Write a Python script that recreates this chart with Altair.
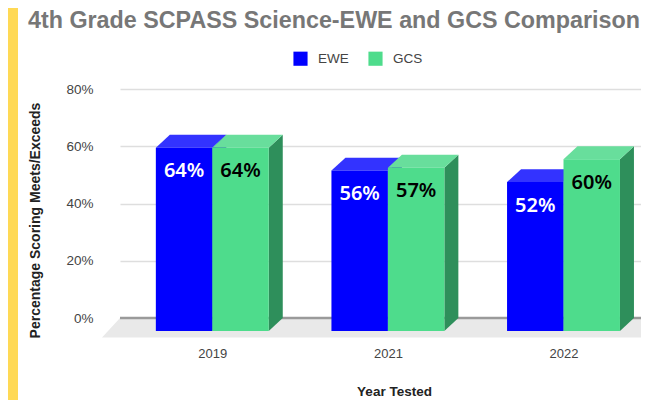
import altair as alt
import pandas as pd

years = ["2019", "2021", "2022"]
ewe = [64, 56, 52]
gcs = [64, 57, 60]
y_ticks = [0, 20, 40, 60, 80]

PX = 175.6
W = 0.3215     # bar width in group units
DX = 14 / PX   # depth in group units
DY = 4.5       # depth in value units
X_MIN, X_MAX = -0.5256, 2.4413
X_SCALE = alt.Scale(domain=[X_MIN, X_MAX], nice=False, zero=False)
Y_SCALE = alt.Scale(domain=[0, 80], nice=False, zero=False)
x_enc = alt.X("x:Q", scale=X_SCALE, title="Year Tested",
              axis=alt.Axis(values=[0, 1, 2], labelExpr="['2019','2021','2022'][datum.value]",
                            grid=False, domain=False, ticks=False, labelPadding=29,
                            labelFont="Liberation Sans", labelFontSize=13, labelColor="#444444",
                            titleFont="Liberation Sans", titleFontSize=13.5, titleFontWeight="bold",
                            titleColor="#222222", titleX=274, titleY=66))
y_enc = alt.Y("y:Q", scale=Y_SCALE, title="Percentage Scoring Meets/Exceeds",
              axis=alt.Axis(values=y_ticks, labelExpr="datum.value + '%'",
                            grid=True, gridColor="#dedede", gridWidth=1.5, domain=False, ticks=False,
                            labelPadding=27, labelFont="Liberation Sans", labelFontSize=13.5, labelColor="#444444",
                            titleFont="Liberation Sans", titleFontSize=14, titleFontWeight="bold",
                            titleColor="#222222", titleX=-78, titleY=131))
y2_enc = alt.Y2("y2:Q")

floor = pd.DataFrame({"x": [X_MIN - 18 / PX, X_MIN, X_MAX], "y": [-6.8, 0, 0], "y2": [-6.8, -6.8, -6.8]})
layers = [
    alt.Chart(floor).mark_area(color="#e9e9e9", orient="vertical", clip=False).encode(x=x_enc, y=y_enc, y2=y2_enc),
    alt.Chart(pd.DataFrame({"y": [0]})).mark_rule(color="#9a9a9a", strokeWidth=2.6).encode(y=y_enc),
]

front_rows, label_rows = [], []
for name, vals, off, side_c, top_c, txt in [("EWE", ewe, -W, "#0000cc", "#3333ff", "white"),
                                            ("GCS", gcs, 0.0, "#2e8f5b", "#68de9c", "black")]:
    side_rows, top_rows = [], []
    for i, v in enumerate(vals):
        x0, x1 = i + off, i + off + W
        side_rows += [dict(g=i, x=x1, y=v - DY, y2=-DY), dict(g=i, x=x1 + DX, y=v, y2=0)]
        top_rows += [dict(g=i, x=x0, y=v - DY, y2=v - DY), dict(g=i, x=x0 + DX, y=v, y2=v - DY),
                     dict(g=i, x=x1, y=v, y2=v - DY), dict(g=i, x=x1 + DX, y=v, y2=v)]
        front_rows.append(dict(x=x0, x2=x1, y=v - DY, y2=-DY, series=name))
        label_rows.append(dict(x=(x0 + x1) / 2, y=v - DY, t=f"{v}%", c=txt))
    for rows, col in [(side_rows, side_c), (top_rows, top_c)]:
        layers.append(alt.Chart(pd.DataFrame(rows)).mark_area(color=col, orient="vertical", clip=False).encode(
            x=x_enc, y=y_enc, y2=y2_enc, detail="g:N"))

layers.append(alt.Chart(pd.DataFrame(front_rows)).mark_rect(clip=False).encode(
    x=x_enc, x2="x2:Q", y=y_enc, y2=y2_enc,
    color=alt.Color("series:N", scale=alt.Scale(domain=["EWE", "GCS"], range=["#0000ff", "#4edc8c"]),
                    legend=alt.Legend(orient="none", legendX=173, legendY=-38, direction="horizontal", title=None,
                                      symbolType="square", symbolSize=200, symbolStrokeWidth=0, padding=0,
                                      labelFont="Liberation Sans", labelFontSize=13.5, labelColor="#444444",
                                      labelOffset=10, columnPadding=19))))
layers.append(alt.Chart(pd.DataFrame(label_rows)).mark_text(
    font="Noto Sans", fontSize=20, fontWeight=600, dy=23.5, baseline="middle", align="center").encode(
    x=x_enc, y=y_enc, text="t:N", color=alt.Color("c:N", scale=None)))
layers.append(alt.Chart(pd.DataFrame({"a": [1]})).mark_rect(color="#ffd955", clip=False).encode(
    x=alt.value(-112), x2=alt.value(-102), y=alt.value(-81), y2=alt.value(311)))

chart = alt.layer(*layers).properties(
    width=521, height=229,
    padding={"left": 112, "top": 81, "right": 0, "bottom": 82},
    autosize=alt.AutoSizeParams(type="none"),
    background="white",
    title=alt.TitleParams("4th Grade SCPASS Science-EWE and GCS Comparison", anchor="start", frame="group",
                          font="Liberation Sans", fontSize=23.3, fontWeight="bold", color="#777777",
                          dx=-92, dy=30, offset=5),
).configure_view(stroke=None)

chart.save("out.html", embed_options={"renderer": "svg", "actions": False})
